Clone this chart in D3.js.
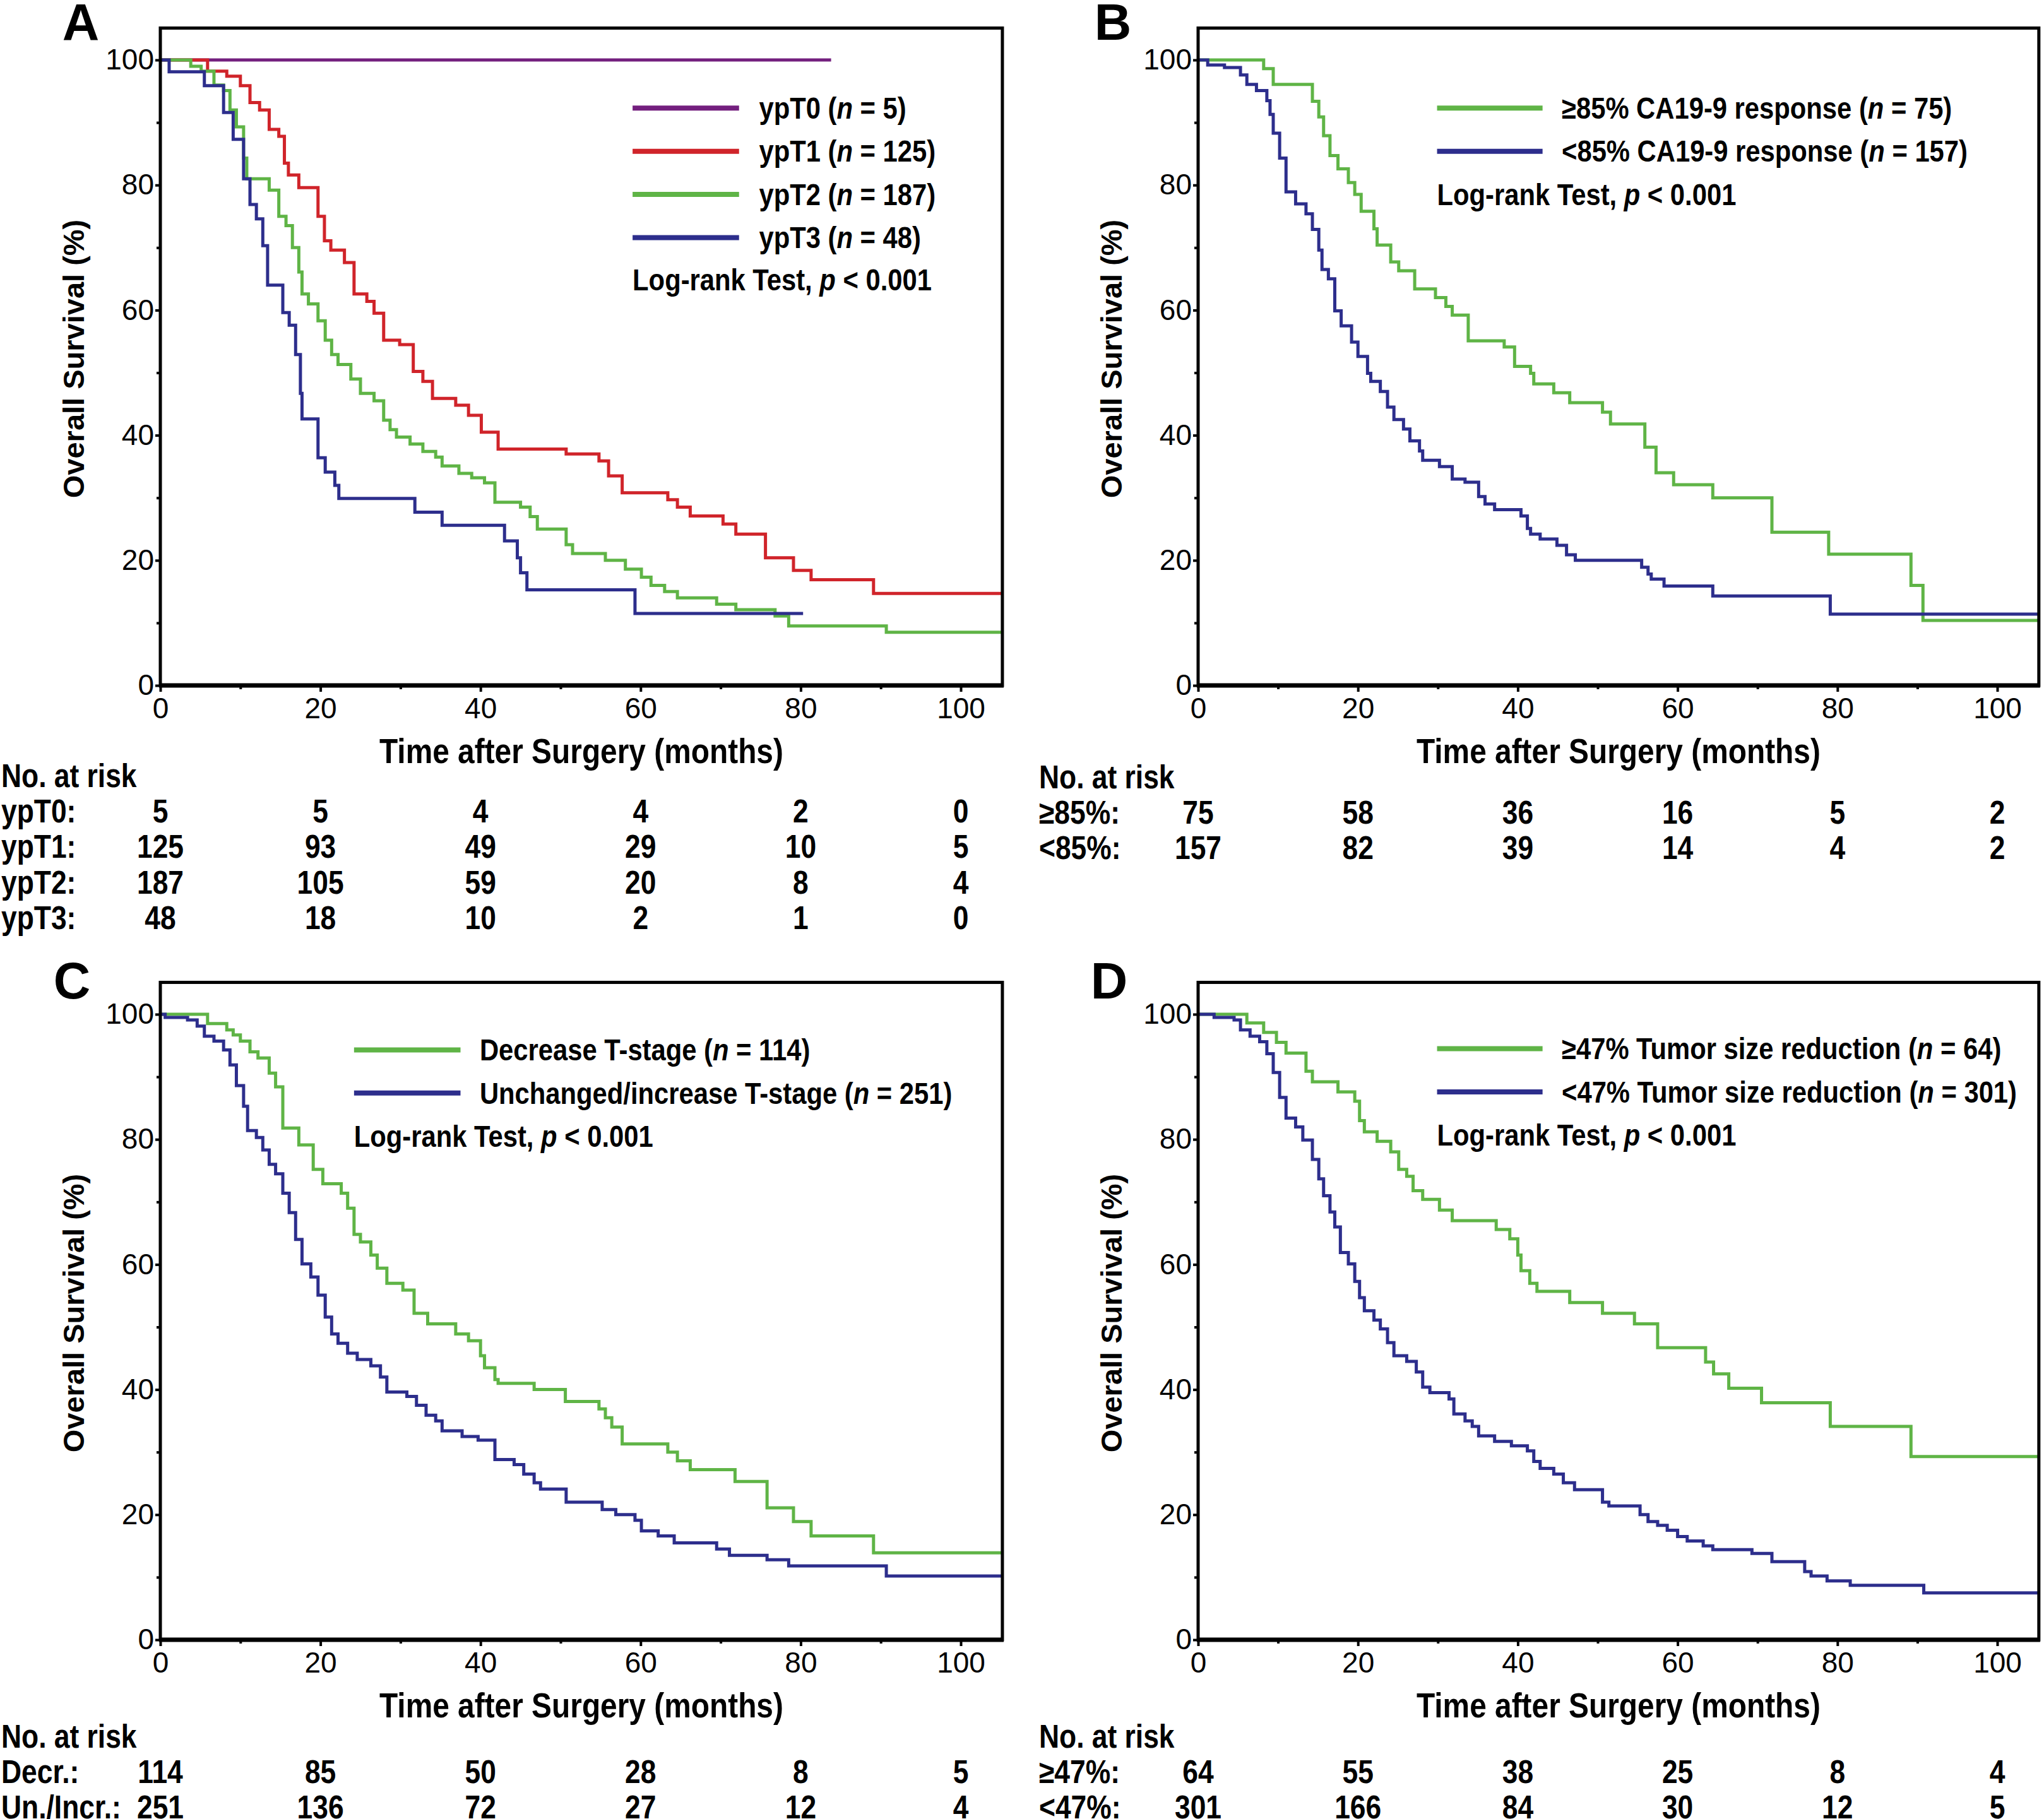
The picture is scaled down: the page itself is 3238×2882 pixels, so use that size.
<!DOCTYPE html>
<html>
<head>
<meta charset="utf-8">
<script src="https://cdn.jsdelivr.net/npm/d3@7"></script>
<style>
body { margin: 0; background: #fff; }
text { font-family: "Liberation Sans", Arial, sans-serif; fill: #000; }
</style>
</head>
<body>
<div class="svg-container"></div>
<script>
// ---- axis ticks ----
var monthTicks = [0, 20, 40, 60, 80, 100];
var minorMonths = [10, 30, 50, 70, 90];
var survTicks = [0, 20, 40, 60, 80, 100];
var minorSurv = [10, 30, 50, 70, 90];
var maxMonth = 105.2;

// ---- panel A: ypT stage ----  [month, survival %]
var ypT0 = [[0,100],[83.8,100]];
var ypT1 = [[0,100],[5.9,98.2],[8.3,97.4],[10.0,95.9],[11.2,93.2],[12.4,92.0],[13.6,88.9],[14.8,87.8],[15.5,83.5],[16.0,81.6],[17.3,79.6],[19.7,75.0],[20.5,71.1],[21.3,69.6],[23.0,67.6],[24.2,62.6],[25.8,61.4],[26.7,59.5],[27.9,55.2],[29.9,54.5],[31.6,50.2],[32.8,48.6],[34.0,45.9],[36.9,44.8],[38.5,43.2],[40.1,40.5],[42.2,37.8],[50.7,37.0],[54.8,35.9],[56.0,33.5],[57.7,30.8],[63.4,29.7],[64.6,28.5],[66.2,27.1],[70.3,25.8],[71.9,24.2],[75.6,20.4],[79.1,18.4],[81.3,16.9],[89.1,14.7],[105.2,14.7]];
var ypT2 = [[0,100],[3.8,99.0],[5.1,98.2],[6.7,96.0],[7.9,95.1],[8.7,92.0],[9.5,89.3],[10.4,84.3],[10.8,81.0],[13.6,79.2],[14.8,75.0],[15.7,73.5],[16.5,70.0],[17.3,66.1],[17.7,62.6],[18.5,61.0],[19.7,58.3],[20.6,55.2],[21.4,52.9],[22.2,51.3],[23.8,49.0],[25.0,46.7],[26.7,45.5],[27.9,42.4],[28.7,40.9],[29.5,39.7],[31.2,38.6],[32.8,37.4],[34.4,36.5],[35.2,35.1],[37.3,33.9],[38.9,33.2],[40.5,32.4],[41.8,29.3],[45.0,28.5],[46.2,27.0],[47.1,25.0],[50.7,22.5],[51.5,21.1],[55.6,20.0],[58.1,18.6],[60.1,17.3],[61.3,16.0],[63.0,15.0],[64.6,14.0],[69.5,13.0],[71.9,12.1],[76.8,11.1],[78.5,9.5],[90.7,8.5],[105.2,8.5]];
var ypT3 = [[0,100],[1.1,98.1],[5.5,95.9],[7.9,91.6],[9.1,87.3],[10.4,81.0],[11.2,76.9],[12.0,74.6],[12.8,70.3],[13.4,64.0],[15.3,59.6],[16.1,57.6],[16.9,52.9],[17.5,46.7],[17.7,42.6],[19.7,36.4],[20.6,34.1],[21.8,32.0],[22.3,29.9],[31.8,27.7],[35.2,25.6],[43.0,23.1],[44.6,20.4],[45.0,18.0],[45.8,15.3],[59.3,11.5],[80.3,11.5]];
var legendA = ["ypT0", "ypT1", "ypT2", "ypT3"];
var nA = [5, 125, 187, 48];
var riskLabelsA = ["ypT0:", "ypT1:", "ypT2:", "ypT3:"];
var riskA = [[5,5,4,4,2,0],[125,93,49,29,10,5],[187,105,59,20,8,4],[48,18,10,2,1,0]];

// ---- panel B: CA19-9 response ----
var ca85hi = [[0,100],[8.2,98.6],[9.4,96.1],[14.3,93.4],[15.1,90.9],[15.7,87.9],[16.5,84.7],[17.5,82.6],[18.8,80.4],[19.6,78.5],[20.4,75.8],[22.0,73.0],[22.4,70.4],[24.1,67.7],[25.1,66.3],[27.1,63.4],[29.7,62.0],[31.0,60.6],[31.8,59.2],[33.8,55.1],[38.3,54.1],[39.6,51.0],[41.6,49.9],[42.0,48.2],[44.5,46.8],[46.5,45.2],[50.6,43.7],[51.6,41.8],[55.9,38.1],[57.3,34.0],[59.5,32.1],[64.4,30.0],[71.8,24.5],[78.9,21.0],[89.2,16.0],[90.7,10.4],[105.2,10.4]];
var ca85lo = [[0,100],[1.2,99.2],[3.3,98.8],[5.3,97.6],[6.1,96.1],[7.3,95.1],[8.6,93.5],[9.0,91.3],[9.4,88.3],[10.2,84.3],[11.0,78.9],[12.2,77.0],[13.5,75.4],[14.3,72.9],[15.1,69.6],[15.5,66.5],[16.3,65.0],[17.1,59.9],[17.9,57.5],[19.2,54.9],[20.0,52.6],[21.2,49.9],[21.6,48.6],[22.8,47.0],[23.7,44.5],[24.5,42.5],[25.7,41.0],[26.5,39.1],[27.7,37.5],[28.1,36.0],[30.2,35.0],[31.8,33.0],[33.4,32.5],[35.1,30.2],[35.9,29.0],[37.1,28.1],[40.4,27.1],[41.2,25.1],[41.6,24.2],[42.8,23.4],[44.9,22.4],[46.1,20.9],[47.2,20.0],[55.5,18.9],[56.3,17.8],[56.7,17.0],[58.3,15.9],[64.4,14.3],[79.1,11.4],[105.2,11.4]];
var legendB = ["\u226585% CA19-9 response", "<85% CA19-9 response"];
var nB = [75, 157];
var riskLabelsB = ["\u226585%:", "<85%:"];
var riskB = [[75,58,36,16,5,2],[157,82,39,14,4,2]];

// ---- panel C: T-stage change ----
var tDecr = [[0,100],[5.9,98.5],[8.3,97.5],[9.1,96.7],[10.0,95.7],[11.2,94.0],[12.2,93.0],[13.6,90.6],[14.4,88.4],[15.3,81.8],[17.3,79.1],[19.1,75.2],[20.3,72.9],[22.6,71.4],[23.4,69.0],[24.2,64.8],[25.0,63.6],[26.3,61.5],[27.1,59.4],[28.3,57.0],[30.3,55.9],[31.7,52.2],[33.4,50.5],[36.9,48.9],[38.5,47.8],[40.0,45.4],[40.5,43.5],[41.8,41.6],[42.2,41.0],[46.7,40.0],[50.6,38.1],[54.8,36.9],[55.6,35.5],[56.4,34.0],[57.7,31.3],[63.4,30.0],[64.6,28.6],[66.2,27.2],[71.8,25.3],[75.8,21.1],[79.1,18.9],[81.3,16.6],[89.1,13.9],[105.2,13.9]];
var tUnch = [[0,100],[0.6,99.5],[3.4,99.1],[4.6,98.1],[5.5,96.5],[6.7,95.7],[7.9,94.3],[8.7,91.9],[9.5,88.6],[10.4,85.3],[10.9,81.4],[12.0,80.3],[12.8,78.3],[13.6,76.0],[14.4,74.5],[15.3,71.4],[16.1,68.3],[16.9,64.0],[17.7,60.1],[18.8,58.0],[19.7,55.1],[20.6,51.6],[21.4,48.9],[22.2,47.4],[23.4,45.8],[24.6,44.8],[26.3,43.8],[27.5,42.0],[28.3,39.6],[30.8,38.9],[32.0,37.5],[33.2,35.9],[34.4,35.0],[35.2,33.4],[37.7,32.5],[39.7,31.9],[41.8,28.8],[44.2,28.0],[45.4,26.5],[46.7,25.1],[47.5,24.1],[50.7,22.0],[55.2,20.8],[56.9,20.0],[59.3,19.1],[60.1,17.4],[62.2,16.6],[64.2,15.5],[69.5,14.5],[71.1,13.5],[75.8,12.8],[78.5,11.8],[90.7,10.2],[105.2,10.2]];
var legendC = ["Decrease T-stage", "Unchanged/increase T-stage"];
var nC = [114, 251];
var riskLabelsC = ["Decr.:", "Un./Incr.:"];
var riskC = [[114,85,50,28,8,5],[251,136,72,27,12,4]];

// ---- panel D: tumor size reduction ----
var size47hi = [[0,100],[6.1,98.6],[8.2,97.1],[9.8,95.5],[11.0,93.8],[13.5,90.9],[14.3,89.2],[17.5,87.6],[19.6,86.1],[20.2,83.0],[20.8,81.2],[22.4,79.7],[24.1,78.0],[25.1,75.2],[26.1,74.1],[26.9,71.8],[28.1,70.4],[30.2,68.7],[31.8,67.0],[37.3,65.6],[39.0,64.1],[40.0,61.5],[40.4,59.0],[41.5,57.0],[42.4,55.7],[46.5,53.9],[50.6,52.2],[54.6,50.5],[57.5,46.7],[63.5,44.4],[64.5,42.5],[66.4,40.2],[70.5,37.9],[79.1,34.1],[89.2,29.3],[105.2,29.3]];
var size47lo = [[0,100],[2.0,99.5],[4.5,99.1],[5.3,97.5],[6.5,96.5],[7.7,95.6],[8.6,93.7],[9.4,90.7],[10.2,86.7],[11.0,83.4],[12.2,82.0],[13.1,79.9],[14.3,76.8],[15.1,73.7],[15.7,71.0],[16.5,68.4],[17.1,66.0],[17.8,61.9],[18.8,60.1],[19.6,57.3],[20.2,54.7],[20.8,52.6],[22.0,51.1],[22.8,49.7],[23.7,47.5],[24.5,45.4],[26.1,44.5],[27.3,42.8],[28.1,40.4],[29.0,39.5],[31.4,38.5],[32.0,36.1],[33.4,35.0],[34.3,34.1],[35.1,32.6],[37.1,31.7],[39.2,31.0],[41.2,30.2],[42.0,28.5],[42.8,27.4],[44.5,26.5],[45.7,25.1],[47.1,24.0],[50.6,22.0],[51.4,21.4],[55.3,20.0],[56.3,18.9],[57.5,18.3],[58.7,17.5],[60.0,16.5],[61.2,15.8],[63.2,15.0],[64.4,14.4],[69.3,13.8],[71.8,12.5],[75.9,10.9],[76.7,10.2],[78.7,9.4],[81.6,8.7],[90.8,7.5],[105.2,7.5]];
var legendD = ["\u226547% Tumor size reduction", "<47% Tumor size reduction"];
var nD = [64, 301];
var riskLabelsD = ["\u226547%:", "<47%:"];
var riskD = [[64,55,38,25,8,4],[301,166,84,30,12,5]];

var purple = "#731f7e", red = "#d0242a", green = "#5fb446", blue = "#2d2e8c";

var svg = d3.select(".svg-container").append("svg")
    .attr("width", 3238)
    .attr("height", 2882);

// the figure uses a condensed bold face; squeeze Liberation Sans to match
function squeeze(sel, f){
    sel.each(function(){
        var w = this.getComputedTextLength();
        d3.select(this)
            .attr("textLength", w * f)
            .attr("lengthAdjust", "spacingAndGlyphs");
    });
}

var panels = [
    {letter: "A", left: 254, right: 1522, top: 95, bottom: 1086, letterX: 128, letterY: 63,
     series: [ypT0, ypT1, ypT2, ypT3], colors: [purple, red, green, blue],
     names: legendA, ns: nA, legLine: [59.0, 72.3], legText: 74.8, legY: [92.3, 85.4, 78.5, 71.6], logY: 64.9,
     riskLabels: riskLabelsA, risk: riskA, riskX: 2, riskTop: 1229},
    {letter: "B", left: 1898, right: 3164, top: 95, bottom: 1086, letterX: 1763, letterY: 63,
     series: [ca85hi, ca85lo], colors: [green, blue],
     names: legendB, ns: nB, legLine: [29.9, 43.1], legText: 45.5, legY: [92.3, 85.4], logY: 78.5,
     riskLabels: riskLabelsB, risk: riskB, riskX: 1646, riskTop: 1231},
    {letter: "C", left: 254, right: 1522, top: 1607, bottom: 2598, letterX: 114, letterY: 1582,
     series: [tDecr, tUnch], colors: [green, blue],
     names: legendC, ns: nC, legLine: [24.2, 37.5], legText: 39.9, legY: [94.3, 87.4], logY: 80.5,
     riskLabels: riskLabelsC, risk: riskC, riskX: 2, riskTop: 2751},
    {letter: "D", left: 1898, right: 3164, top: 1607, bottom: 2598, letterX: 1757, letterY: 1582,
     series: [size47hi, size47lo], colors: [green, blue],
     names: legendD, ns: nD, legLine: [29.9, 43.1], legText: 45.5, legY: [94.5, 87.6], logY: 80.7,
     riskLabels: riskLabelsD, risk: riskD, riskX: 1646, riskTop: 2751}
];

panels.forEach(function(p){
    var x = d3.scaleLinear().domain([0, 100]).range([p.left, p.right]);
    var y = d3.scaleLinear().domain([0, 100]).range([p.bottom, p.top]);
    var g = svg.append("g");
    var frameTop = y(105.1);
    var frameRight = x(maxMonth);

    // curves
    var line = d3.line()
        .x(function(d){ return x(d[0]); })
        .y(function(d){ return y(d[1]); })
        .curve(d3.curveStepAfter);
    p.series.forEach(function(s, i){
        g.append("path")
            .datum(s)
            .attr("d", line)
            .attr("fill", "none")
            .attr("stroke", p.colors[i])
            .attr("stroke-width", 5);
    });

    // frame
    g.append("rect")
        .attr("x", x(0))
        .attr("y", frameTop)
        .attr("width", frameRight - x(0))
        .attr("height", y(0) - frameTop)
        .attr("fill", "none")
        .attr("stroke", "#000")
        .attr("stroke-width", 5);
    g.append("line")
        .attr("x1", x(0) - 2).attr("x2", frameRight + 2)
        .attr("y1", y(0)).attr("y2", y(0))
        .attr("stroke", "#000")
        .attr("stroke-width", 7);

    // axes
    var yAxis = g.append("g")
        .attr("transform", "translate(" + x(0) + ",0)")
        .call(d3.axisLeft(y).tickValues(survTicks).tickSize(8).tickPadding(2));
    var yMinor = g.append("g")
        .attr("transform", "translate(" + x(0) + ",0)")
        .call(d3.axisLeft(y).tickValues(minorSurv).tickSize(6).tickFormat(""));
    var xAxis = g.append("g")
        .attr("transform", "translate(0," + y(0) + ")")
        .call(d3.axisBottom(x).tickValues(monthTicks).tickSize(10).tickPadding(9));
    var xMinor = g.append("g")
        .attr("transform", "translate(0," + y(0) + ")")
        .call(d3.axisBottom(x).tickValues(minorMonths).tickSize(6).tickFormat(""));
    [yAxis, yMinor, xAxis, xMinor].forEach(function(a){
        a.select(".domain").remove();
        a.selectAll("line").attr("stroke", "#000").attr("stroke-width", 4);
        a.selectAll("text")
            .style("font-family", "'Liberation Sans', Arial, sans-serif")
            .style("font-size", "46px")
            .attr("fill", "#000");
    });

    // axis titles
    var xt = g.append("text")
        .attr("x", (x(0) + frameRight) / 2)
        .attr("y", p.bottom + 104)
        .attr("dy", "0.35em")
        .attr("text-anchor", "middle")
        .style("font-size", "55px")
        .style("font-weight", "bold")
        .text("Time after Surgery (months)");
    squeeze(xt, 0.87);
    g.append("text")
        .attr("transform", "translate(" + (p.left - 137) + "," + ((p.top + p.bottom) / 2 - 22) + ") rotate(-90)")
        .attr("dy", "0.35em")
        .attr("text-anchor", "middle")
        .style("font-size", "47px")
        .style("font-weight", "bold")
        .text("Overall Survival (%)");

    // panel letter
    g.append("text")
        .attr("x", p.letterX)
        .attr("y", p.letterY)
        .attr("text-anchor", "middle")
        .style("font-size", "81px")
        .style("font-weight", "bold")
        .text(p.letter);

    // legend
    p.names.forEach(function(name, i){
        g.append("line")
            .attr("x1", x(p.legLine[0])).attr("x2", x(p.legLine[1]))
            .attr("y1", y(p.legY[i])).attr("y2", y(p.legY[i]))
            .attr("stroke", p.colors[i])
            .attr("stroke-width", 8);
        var t = g.append("text")
            .attr("x", x(p.legText))
            .attr("y", y(p.legY[i]))
            .attr("dy", "0.35em")
            .style("font-size", "48px")
            .style("font-weight", "bold");
        t.append("tspan").text(name + " (");
        t.append("tspan").style("font-style", "italic").text("n");
        t.append("tspan").text(" = " + p.ns[i] + ")");
        squeeze(t, 0.87);
    });
    var lr = g.append("text")
        .attr("x", x(p.legLine[0]))
        .attr("y", y(p.logY))
        .attr("dy", "0.35em")
        .style("font-size", "48px")
        .style("font-weight", "bold");
    lr.append("tspan").text("Log-rank Test, ");
    lr.append("tspan").style("font-style", "italic").text("p");
    lr.append("tspan").text(" < 0.001");
    squeeze(lr, 0.87);

    // numbers at risk
    var nr = g.append("text")
        .attr("x", p.riskX)
        .attr("y", p.riskTop)
        .attr("dy", "0.35em")
        .style("font-size", "51px")
        .style("font-weight", "bold")
        .text("No. at risk");
    squeeze(nr, 0.87);
    p.riskLabels.forEach(function(lab, r){
        var ry = p.riskTop + 56 + r * 56.5;
        var lt = g.append("text")
            .attr("x", p.riskX)
            .attr("y", ry)
            .attr("dy", "0.35em")
            .style("font-size", "51px")
            .style("font-weight", "bold")
            .text(lab);
        squeeze(lt, 0.87);
        var nums = g.selectAll(null)
            .data(p.risk[r])
            .enter().append("text")
            .attr("x", function(d, k){ return x(monthTicks[k]); })
            .attr("y", ry)
            .attr("dy", "0.35em")
            .attr("text-anchor", "middle")
            .style("font-size", "51px")
            .style("font-weight", "bold")
            .text(function(d){ return d; });
        squeeze(nums, 0.87);
    });
});
</script>
</body>
</html>
